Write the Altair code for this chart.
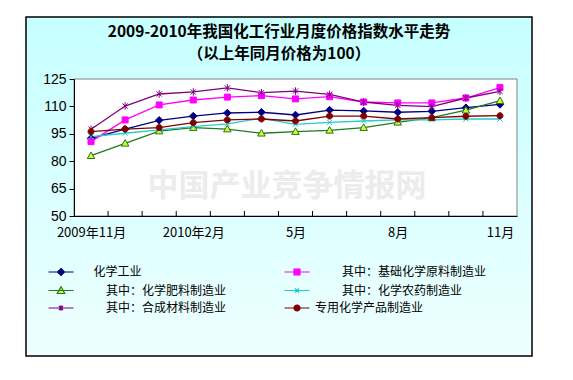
import altair as alt
import pandas as pd

# ---- data ----
months = ["2009年11月", "12月", "2010年1月", "2010年2月", "3月", "4月", "5月",
          "6月", "7月", "8月", "9月", "10月", "11月"]
label_idx = [0, 3, 6, 9, 12]

title_text = "2009-2010年我国化工行业月度价格指数水平走势"
subtitle_text = "（以上年同月价格为100）"
watermark_text = "中国产业竞争情报网"

series_names = ["化学工业", "其中：基础化学原料制造业", "其中：化学肥料制造业",
                "其中：化学农药制造业", "其中：合成材料制造业", "专用化学产品制造业"]

chem_industry = [92.5, 97.5, 102.4, 104.7, 106.4, 106.8, 105.3, 108.0, 107.5, 106.8, 107.3, 109.3, 111.1]
basic_raw     = [90.7, 102.6, 110.8, 113.5, 115.1, 115.9, 114.1, 115.3, 112.4, 111.9, 111.9, 114.6, 120.3]
fertilizer    = [83.0, 89.8, 96.5, 98.4, 97.6, 95.3, 96.2, 96.9, 98.4, 101.3, 103.8, 107.9, 113.1]
pesticide     = [93.4, 95.3, 97.1, 98.9, 100.4, 103.5, 100.2, 101.3, 102.0, 102.6, 102.6, 103.1, 103.1]
synthetic     = [97.5, 110.2, 116.8, 117.9, 120.1, 117.5, 118.4, 116.6, 112.4, 110.6, 109.9, 114.6, 118.2]
special       = [96.2, 97.6, 98.4, 101.1, 102.6, 103.1, 102.0, 104.7, 104.7, 103.1, 103.8, 104.6, 104.9]

all_values = [chem_industry, basic_raw, fertilizer, pesticide, synthetic, special]

y_ticks = [50, 65, 80, 95, 110, 125]

# ---- styles ----
line_colors = ["#000080", "#ff00ff", "#1f7a1f", "#22cccc", "#800080", "#800000"]
fill_colors = ["#000080", "#ff00ff", "#ccff33", "#22cccc", "#800080", "#800000"]
edge_colors = ["#000080", "#ff00ff", "#2d6e1f", "#22cccc", "#800080", "#800000"]
marker_paths = [
    "M0,-1L1,0L0,1L-1,0Z",
    "M-0.8,-0.8H0.8V0.8H-0.8Z",
    "M0,-1L1,0.75H-1Z",
    "M-0.7,-0.7L0.7,0.7M-0.7,0.7L0.7,-0.7",
    "M-0.7,-0.7L0.7,0.7M-0.7,0.7L0.7,-0.7M0,-1V1",
    "M0.8,0A0.8,0.8 0 1,1 -0.8,0A0.8,0.8 0 1,1 0.8,0Z",
]
# legend symbols: a short line with the marker in its middle (5 px per unit)
legend_paths = [
    "M-2.5,0H2.5M0,-0.7L0.7,0L0,0.7L-0.7,0Z",
    "M-2.5,0H2.5M-0.6,-0.6H0.6V0.6H-0.6Z",
    "M-2.5,0H2.5M0,-0.75L0.75,0.6H-0.75Z",
    "M-2.5,0H2.5M-0.4,-0.4L0.4,0.4M-0.4,0.4L0.4,-0.4",
    "M-2.5,0H2.5M-0.4,-0.4L0.4,0.4M-0.4,0.4L0.4,-0.4M0,-0.55V0.55",
    "M-2.5,0H2.5M0.6,0A0.6,0.6 0 1,1 -0.6,0A0.6,0.6 0 1,1 0.6,0Z",
]
# leading blanks as in the original legend (zero-width space keeps them from being trimmed)
legend_prefix = ["\u200b\u3000\u2009", "\u200b\u3000\u3000\u2005", "\u200b\u3000\u3000\u2005",
                 "\u200b\u3000\u3000\u2005", "\u200b\u3000\u3000\u2005", ""]
legend_labels = [p + n for p, n in zip(legend_prefix, series_names)]
# column-major legend order (2 columns x 3 rows)
legend_order = [0, 2, 4, 1, 3, 5]

rows = []
for s, vals in enumerate(all_values):
    for i, v in enumerate(vals):
        rows.append({"i": i, "value": v, "series": series_names[s], "leg": legend_labels[s]})
df = pd.DataFrame(rows)

boundaries = pd.DataFrame({"b": [k - 0.5 for k in range(1, len(months))]})

W, H = 443, 137
CJK = "Noto Sans CJK SC"

label_js = "[" + ",".join("'%s'" % m for m in months) + "]"

x_enc = alt.X("i:Q", scale=alt.Scale(domain=[-0.5, len(months) - 0.5], nice=False, zero=False),
              axis=alt.Axis(values=label_idx, labelExpr=label_js + "[datum.value]",
                            ticks=False, tickSize=0, grid=False, title=None,
                            domainColor="black", domainWidth=1, labelColor="black",
                            labelFont=CJK, labelFontSize=13, labelPadding=10, zindex=1))
y_enc = alt.Y("value:Q", scale=alt.Scale(domain=[50, 125], nice=False, zero=False),
              axis=alt.Axis(values=y_ticks, tickSize=5, tickColor="black", grid=False, title=None,
                            domainColor="black", domainWidth=1, labelColor="black",
                            labelFont="Liberation Sans", labelFontSize=14, labelPadding=3, zindex=1))

one = alt.Data(values=[{}])

frame = alt.Chart(one).mark_rect(
    fill=alt.LinearGradient(gradient="linear", x1=0, y1=0, x2=0, y2=1,
                            stops=[alt.GradientStop(color="#c6ffff", offset=0),
                                   alt.GradientStop(color="#eeffff", offset=1)]),
    stroke="black", strokeWidth=1.5
).encode(x=alt.value(-48), x2=alt.value(458), y=alt.value(-62), y2=alt.value(277))

plot_bg = alt.Chart(one).mark_rect(fill="white", stroke="#808080", strokeWidth=1).encode(
    x=alt.value(0), x2=alt.value(W), y=alt.value(0), y2=alt.value(H))

title1 = alt.Chart(one).mark_text(
    text=title_text, font=CJK, fontSize=15.5, fontWeight="bold", color="black", baseline="middle"
).encode(x=alt.value(205), y=alt.value(-47))
title2 = alt.Chart(one).mark_text(
    text=subtitle_text, font=CJK, fontSize=15.5, fontWeight="bold", color="black", baseline="middle"
).encode(x=alt.value(205), y=alt.value(-25))

watermark = alt.Chart(one).mark_text(
    text=watermark_text, font=CJK, fontSize=31, fontWeight="bold", color="#ececec"
).encode(x=alt.value(213), y=alt.value(108))

lines = alt.Chart(df).mark_line(strokeWidth=1.3).encode(
    x=x_enc, y=y_enc,
    color=alt.Color("series:N", scale=alt.Scale(domain=series_names, range=line_colors), legend=None),
    detail="series:N",
)

points = alt.Chart(df).mark_point(filled=True, size=56, strokeWidth=1, opacity=1).encode(
    x=x_enc, y=y_enc,
    shape=alt.Shape("series:N", scale=alt.Scale(domain=series_names, range=marker_paths), legend=None),
    fill=alt.Fill("series:N", scale=alt.Scale(domain=series_names, range=fill_colors), legend=None),
    stroke=alt.Stroke("series:N", scale=alt.Scale(domain=series_names, range=edge_colors), legend=None),
)

tickmarks = alt.Chart(boundaries).mark_rule(color="black", strokeWidth=1).encode(
    x=alt.X("b:Q"), y=alt.value(H - 5), y2=alt.value(H))

leg_dom = [legend_labels[k] for k in legend_order]
legend_layer = alt.Chart(df).transform_filter("false").mark_point(filled=True, strokeWidth=1.2).encode(
    shape=alt.Shape("leg:N", scale=alt.Scale(domain=leg_dom, range=[legend_paths[k] for k in legend_order]),
                    legend=alt.Legend(title=None)),
    fill=alt.Fill("leg:N", scale=alt.Scale(domain=leg_dom, range=[fill_colors[k] for k in legend_order]),
                  legend=alt.Legend(title=None)),
    stroke=alt.Stroke("leg:N", scale=alt.Scale(domain=leg_dom, range=[line_colors[k] for k in legend_order]),
                      legend=alt.Legend(title=None)),
)

chart = alt.layer(frame, plot_bg, title1, title2, watermark, lines, points, tickmarks, legend_layer).resolve_scale(
    color="independent", fill="independent", stroke="independent", shape="independent"
).properties(
    width=W, height=H,
    autosize=alt.AutoSizeParams(type="none"),
    padding={"left": 66, "top": 71, "right": 31, "bottom": 144},
).configure_view(strokeWidth=0).configure(background="white").configure_legend(
    orient="none", legendX=-26, legendY=187, columns=2, columnPadding=55, rowPadding=5.5,
    symbolSize=100, symbolOffset=7, symbolStrokeWidth=1.2, labelFont=CJK, labelFontSize=12,
    labelColor="black", labelOffset=12, labelLimit=300, padding=0, symbolOpacity=1,
)

chart.save("out.html", embed_options={"renderer": "svg", "actions": False})
